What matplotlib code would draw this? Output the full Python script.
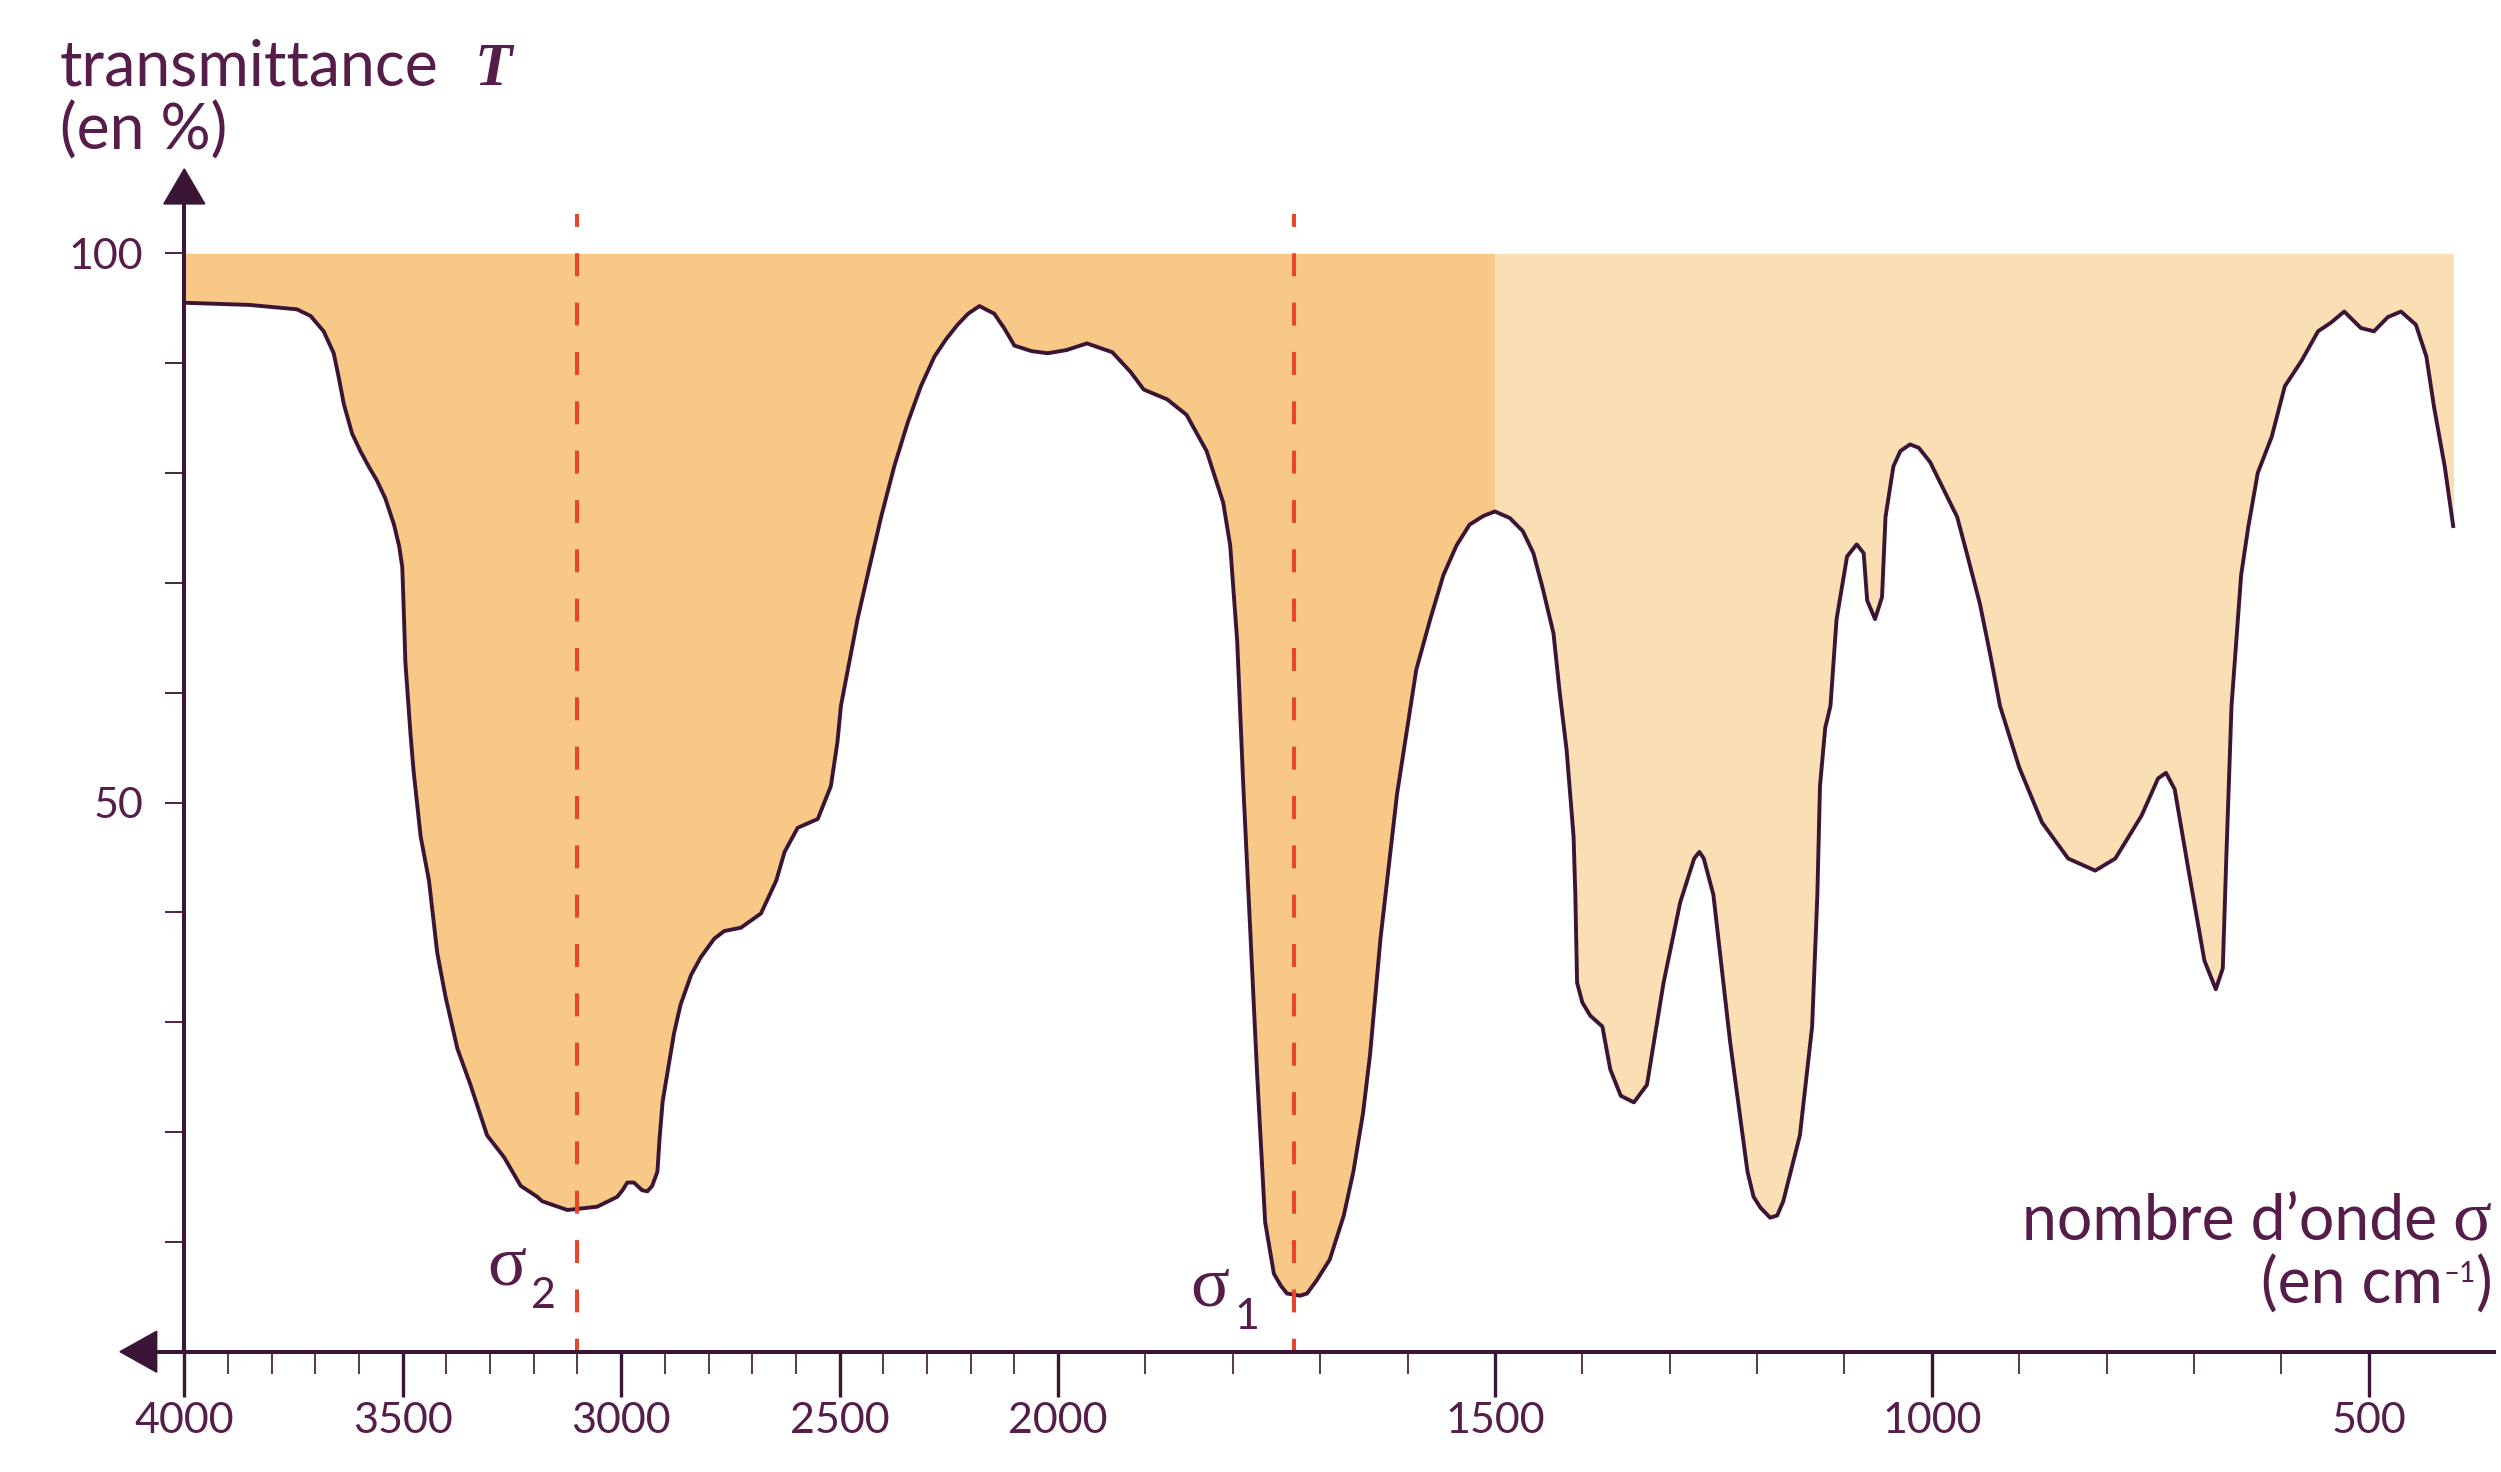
import numpy as np
import matplotlib
matplotlib.use("Agg")
import matplotlib.pyplot as plt
import matplotlib.transforms as mtransforms
from matplotlib.patches import Polygon
from matplotlib.lines import Line2D
from matplotlib.ticker import FixedLocator, NullFormatter, FixedFormatter

# ---------------- data ----------------
wavenumber = [4000, 3850, 3742, 3711, 3681, 3658, 3646, 3635, 3616, 3597, 3578, 3559,
              3540, 3520, 3508, 3501, 3497, 3494, 3482, 3475, 3459, 3440, 3421, 3402,
              3375, 3345, 3307, 3268, 3230, 3192, 3181, 3123, 3055, 3009, 2997, 2986,
              2971, 2952, 2940, 2929, 2917, 2912, 2905, 2879, 2864, 2840, 2818, 2787,
              2764, 2726, 2680, 2645, 2626, 2596, 2550, 2520, 2505, 2497, 2459, 2436,
              2405, 2375, 2344, 2314, 2283, 2256, 2230, 2206, 2180, 2146, 2122, 2100,
              2061, 2024, 1990, 1967, 1938, 1917, 1902, 1875, 1853, 1830, 1811, 1803,
              1795, 1788, 1780, 1772, 1763, 1753, 1745, 1738, 1723, 1715, 1704, 1689,
              1673, 1662, 1651, 1643, 1631, 1612, 1590, 1574, 1559, 1544, 1529, 1513,
              1500, 1483, 1468, 1456, 1445, 1433, 1426, 1418, 1410, 1408, 1406, 1400,
              1391, 1377, 1368, 1356, 1341, 1326, 1307, 1288, 1272, 1266, 1261, 1250,
              1231, 1211, 1204, 1196, 1185, 1177, 1170, 1151, 1137, 1131, 1128, 1122,
              1116, 1109, 1097, 1086, 1078, 1074, 1065, 1057, 1053, 1044, 1036, 1025,
              1015, 1002, 971, 960, 945, 933, 922, 900, 874, 844, 813, 790, 760, 741,
              732, 722, 707, 688, 675, 667, 663, 657, 646, 638, 627, 611, 596, 577,
              558, 543, 528, 509, 494, 478, 463, 446, 434, 425, 413, 403]
transmittance = [95.5, 95.3, 94.9, 94.3, 92.9, 90.9, 88.6, 86.3, 83.6, 82.0, 80.6, 79.3,
                 77.7, 75.3, 73.3, 71.4, 66.7, 62.8, 56.1, 52.8, 46.9, 42.9, 36.3, 32.3,
                 27.6, 24.3, 19.7, 17.7, 15.1, 14.1, 13.7, 12.9, 13.2, 14.1, 14.7, 15.4,
                 15.4, 14.7, 14.6, 15.1, 16.4, 19.5, 22.8, 29.0, 31.6, 34.3, 35.9, 37.6,
                 38.3, 38.6, 39.9, 42.9, 45.5, 47.7, 48.5, 51.5, 55.5, 58.8, 66.7, 70.7,
                 76.0, 80.6, 84.6, 87.9, 90.6, 92.2, 93.5, 94.5, 95.2, 94.5, 93.1, 91.6,
                 91.1, 90.9, 91.2, 91.8, 91.0, 89.2, 87.6, 86.7, 85.3, 82.0, 77.3, 73.4,
                 64.7, 51.5, 38.3, 25.0, 11.8, 7.1, 6.0, 5.3, 5.1, 5.3, 6.5, 8.4,
                 12.4, 16.4, 21.7, 27.0, 37.6, 50.8, 62.1, 66.7, 70.7, 73.4, 75.3, 76.1,
                 76.5, 75.9, 74.7, 72.7, 69.4, 65.4, 60.1, 54.8, 46.9, 41.6, 33.6, 31.8,
                 30.6, 29.6, 25.7, 23.3, 22.7, 24.3, 33.6, 40.9, 44.9, 45.5, 44.9, 41.6,
                 28.3, 16.4, 14.1, 13.1, 12.2, 12.4, 13.7, 19.7, 29.6, 41.6, 51.5, 56.8,
                 58.8, 66.7, 72.4, 73.5, 72.7, 68.4, 66.7, 68.7, 76.0, 80.6, 82.0, 82.6,
                 82.3, 81.0, 76.0, 72.7, 68.1, 63.4, 58.8, 53.2, 48.2, 44.9, 43.8, 44.9,
                 48.8, 52.2, 52.7, 51.2, 44.2, 35.6, 33.0, 34.9, 44.9, 58.8, 70.7, 75.0,
                 80.0, 83.3, 87.9, 90.2, 92.9, 93.7, 94.7, 93.2, 92.9, 94.2, 94.7, 93.5,
                 90.6, 85.9, 80.6, 75.0]

x_major = [4000, 3500, 3000, 2500, 2000, 1500, 1000, 500]
x_major_labels = ["4000", "3500", "3000", "2500", "2000", "1500", "1000", "500"]
x_minor = [v for v in range(3900, 599, -100) if v % 500 != 0]
y_major = [50, 100]
y_major_labels = ["50", "100"]
y_minor = [10, 20, 30, 40, 60, 70, 80, 90]

sigma_lines = [3100, 1730]
sigma_subs = ["2", "1"]
split_wavenumber = 1500

# ---------------- style ----------------
W, H, DPI = 2501, 1472, 100
line_col = "#3a1535"
text_col = "#561d4b"
dark_fill = "#f7c886"
light_fill = "#fadfb4"
red = "#e8452a"
sans = ["Lato", "DejaVu Sans"]
serif = ["Liberation Serif", "DejaVu Serif"]

fig = plt.figure(figsize=(W / DPI, H / DPI), dpi=DPI)
ax = fig.add_axes([184.3 / W, (H - 1351.7) / H, (2494 - 184.3) / W, (1351.7 - 203.9) / H])


def fwd(x):
    x = np.asarray(x, float)
    return np.where(x >= 2000, x, 2 * x - 2000)


def inv(u):
    u = np.asarray(u, float)
    return np.where(u >= 2000, u, (u + 2000) / 2)


ax.set_xscale("function", functions=(fwd, inv))
ax.set_xlim(4000, 356.6)
ax.set_ylim(0, 104.5)

wn = np.array(wavenumber, float)
tr = np.array(transmittance, float)
hi = wn >= split_wavenumber
lo = wn <= split_wavenumber
ax.fill_between(wn[hi], tr[hi], 100, color=dark_fill, lw=0, zorder=1)
ax.fill_between(wn[lo], tr[lo], 100, color=light_fill, lw=0, zorder=1)
ax.plot(wn, tr, color=line_col, lw=2.8, solid_joinstyle="round",
        solid_capstyle="butt", zorder=3)

dash_top = 103.58
for s in sigma_lines:
    ax.plot([s, s], [dash_top, 0], color=red, lw=2.9,
            linestyle=(2.5, (5.7, 6.55)), zorder=4, clip_on=False)

# sigma labels
sig_cfg = [(-51, 6.16, -46, 3.98), (-65, 4.25, -60, 2.07)]
for s, sub, (ox, yb, sox, syb) in zip(sigma_lines, sigma_subs, sig_cfg):
    ax.annotate("σ", xy=(s, yb), xytext=(ox, 0), textcoords="offset pixels",
                ha="right", va="baseline", fontsize=52, family=serif,
                color=text_col, zorder=5)
    ax.annotate(sub, xy=(s, syb), xytext=(sox, 0), textcoords="offset pixels",
                ha="left", va="baseline", fontsize=31, family=sans,
                color=text_col, zorder=5)

# spines
for side in ["top", "right"]:
    ax.spines[side].set_visible(False)
for side in ["left", "bottom"]:
    ax.spines[side].set_color(line_col)
    ax.spines[side].set_linewidth(2.9)
    ax.spines[side].set_zorder(6)

# ticks
ax.xaxis.set_major_locator(FixedLocator(x_major))
ax.xaxis.set_major_formatter(FixedFormatter(x_major_labels))
ax.xaxis.set_minor_locator(FixedLocator(x_minor))
ax.xaxis.set_minor_formatter(NullFormatter())
ax.yaxis.set_major_locator(FixedLocator(y_major))
ax.yaxis.set_major_formatter(FixedFormatter(y_major_labels))
ax.yaxis.set_minor_locator(FixedLocator(y_minor))
ax.yaxis.set_minor_formatter(NullFormatter())

ax.tick_params(axis="x", which="major", direction="out", length=32.4, width=2.4,
               color=line_col, labelcolor=text_col, labelsize=31, pad=4)
ax.tick_params(axis="x", which="minor", direction="out", length=15.8, width=1.2,
               color=line_col)
ax.tick_params(axis="y", which="both", direction="out", length=13.7, width=1.3,
               color=line_col, labelcolor=text_col, labelsize=31, pad=16)
for lab in ax.get_xticklabels() + ax.get_yticklabels():
    lab.set_family(sans)

ax.set_facecolor("none")

# arrows (in inches relative to axes corners)
tr_top = fig.dpi_scale_trans + mtransforms.ScaledTranslation(0, 1, ax.transAxes)
ax.add_patch(Polygon([(-0.205, 0), (0.205, 0), (0, 0.35)], closed=True,
                     transform=tr_top, color=line_col, clip_on=False, zorder=7))
tr_left = fig.dpi_scale_trans + mtransforms.ScaledTranslation(0, 0, ax.transAxes)
ax.add_patch(Polygon([(-0.276, -0.205), (-0.276, 0.205), (-0.643, 0)], closed=True,
                     transform=tr_left, color=line_col, clip_on=False, zorder=7))
ax.add_line(Line2D([-0.29, 0], [0, 0], transform=tr_left, color=line_col, lw=2.9,
                   clip_on=False, zorder=7))

# axis titles
title_size = 45
fig.text(60 / W, 1 - 85 / H, "transmittance", fontsize=title_size, family=sans,
         color=text_col, va="baseline", ha="left")
fig.text(475 / W, 1 - 85 / H, "T", fontsize=44, family=serif, style="italic",
         weight="bold", color=text_col, va="baseline", ha="left")
fig.text(60 / W, 1 - 150 / H, "(en %)", fontsize=title_size, family=sans,
         color=text_col, va="baseline", ha="left")

fig.text(2437 / W, 1 - 1240 / H, "nombre d’onde", fontsize=title_size, family=sans,
         color=text_col, va="baseline", ha="right")
fig.text(2491 / W, 1 - 1240 / H, "σ", fontsize=52, family=serif,
         color=text_col, va="baseline", ha="right")
fig.text(2443 / W, 1 - 1304 / H, "(en cm", fontsize=title_size, family=sans,
         color=text_col, va="baseline", ha="right")
fig.text(2444 / W, 1 - 1282 / H, "–1", fontsize=20, family=sans,
         color=text_col, va="baseline", ha="left")
fig.text(2475 / W, 1 - 1304 / H, ")", fontsize=title_size, family=sans,
         color=text_col, va="baseline", ha="left")

fig.savefig("out.png", dpi=DPI)
